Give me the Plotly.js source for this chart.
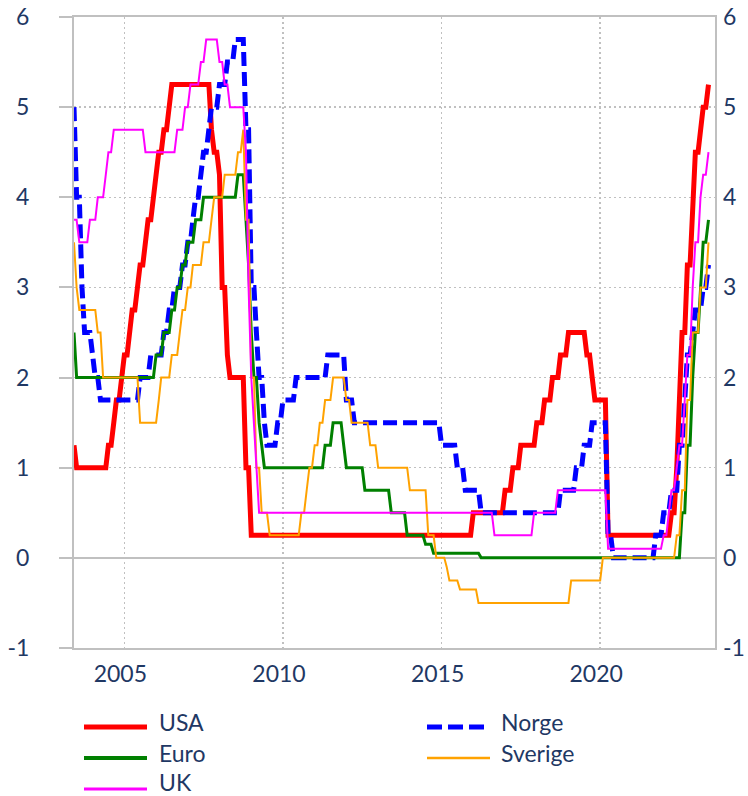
<!DOCTYPE html>
<html>
<head>
<meta charset="utf-8">
<script src="https://cdn.plot.ly/plotly-3.0.1.min.js"></script>
<style>
  html, body { margin: 0; padding: 0; background: #ffffff; }
  #chart { width: 748px; height: 796px; }
</style>
</head>
<body>
<div id="chart"></div>
<script>
// ---------------- DATA ----------------
// Policy rates (%), month-end values from May 2003 to May 2023,
// each plotted at the first day of the following month (Jun 2003 ... Jun 2023).
const seriesNames = ['USA', 'Norge', 'Euro', 'Sverige', 'UK'];

const usa = [
  1.25,1,1,1,1,1,1,1,                                   // 2003 May-Dec
  1,1,1,1,1,1.25,1.25,1.5,1.75,1.75,2,2.25,             // 2004
  2.25,2.5,2.75,2.75,3,3.25,3.25,3.5,3.75,3.75,4,4.25,  // 2005
  4.5,4.5,4.75,4.75,5,5.25,5.25,5.25,5.25,5.25,5.25,5.25, // 2006
  5.25,5.25,5.25,5.25,5.25,5.25,5.25,5.25,4.75,4.5,4.5,4.25, // 2007
  3,3,2.25,2,2,2,2,2,2,1,1,0.25,                        // 2008
  0.25,0.25,0.25,0.25,0.25,0.25,0.25,0.25,0.25,0.25,0.25,0.25, // 2009
  0.25,0.25,0.25,0.25,0.25,0.25,0.25,0.25,0.25,0.25,0.25,0.25, // 2010
  0.25,0.25,0.25,0.25,0.25,0.25,0.25,0.25,0.25,0.25,0.25,0.25, // 2011
  0.25,0.25,0.25,0.25,0.25,0.25,0.25,0.25,0.25,0.25,0.25,0.25, // 2012
  0.25,0.25,0.25,0.25,0.25,0.25,0.25,0.25,0.25,0.25,0.25,0.25, // 2013
  0.25,0.25,0.25,0.25,0.25,0.25,0.25,0.25,0.25,0.25,0.25,0.25, // 2014
  0.25,0.25,0.25,0.25,0.25,0.25,0.25,0.25,0.25,0.25,0.25,0.5,  // 2015
  0.5,0.5,0.5,0.5,0.5,0.5,0.5,0.5,0.5,0.5,0.5,0.75,            // 2016
  0.75,0.75,1,1,1,1.25,1.25,1.25,1.25,1.25,1.25,1.5,           // 2017
  1.5,1.5,1.75,1.75,1.75,2,2,2,2.25,2.25,2.25,2.5,             // 2018
  2.5,2.5,2.5,2.5,2.5,2.5,2.25,2.25,2,1.75,1.75,1.75,          // 2019
  1.75,1.75,0.25,0.25,0.25,0.25,0.25,0.25,0.25,0.25,0.25,0.25, // 2020
  0.25,0.25,0.25,0.25,0.25,0.25,0.25,0.25,0.25,0.25,0.25,0.25, // 2021
  0.25,0.25,0.5,0.5,1,1.75,2.5,2.5,3.25,3.25,4,4.5,            // 2022
  4.5,4.75,5,5,5.25                                             // 2023 Jan-May
];

const norge = [
  5,4,4,3,2.5,2.5,2.5,2.25,                                    // 2003 May-Dec
  2,2,1.75,1.75,1.75,1.75,1.75,1.75,1.75,1.75,1.75,1.75,       // 2004
  1.75,1.75,1.75,1.75,1.75,2,2,2,2,2.25,2.25,2.25,             // 2005
  2.25,2.25,2.5,2.5,2.75,2.75,3,3,3,3.25,3.25,3.5,             // 2006
  3.5,3.75,4,4,4.25,4.5,4.5,4.75,5,5,5,5.25,                   // 2007
  5.25,5.25,5.5,5.5,5.5,5.75,5.75,5.75,5.75,4.75,4.75,3,       // 2008
  3,2.5,2,2,1.5,1.25,1.25,1.25,1.25,1.5,1.5,1.75,              // 2009
  1.75,1.75,1.75,1.75,2,2,2,2,2,2,2,2,                         // 2010
  2,2,2,2,2.25,2.25,2.25,2.25,2.25,2.25,2.25,1.75,             // 2011
  1.75,1.75,1.5,1.5,1.5,1.5,1.5,1.5,1.5,1.5,1.5,1.5,           // 2012
  1.5,1.5,1.5,1.5,1.5,1.5,1.5,1.5,1.5,1.5,1.5,1.5,             // 2013
  1.5,1.5,1.5,1.5,1.5,1.5,1.5,1.5,1.5,1.5,1.5,1.25,            // 2014
  1.25,1.25,1.25,1.25,1.25,1,1,1,0.75,0.75,0.75,0.75,          // 2015
  0.75,0.75,0.5,0.5,0.5,0.5,0.5,0.5,0.5,0.5,0.5,0.5,           // 2016
  0.5,0.5,0.5,0.5,0.5,0.5,0.5,0.5,0.5,0.5,0.5,0.5,             // 2017
  0.5,0.5,0.5,0.5,0.5,0.5,0.5,0.5,0.75,0.75,0.75,0.75,         // 2018
  0.75,0.75,1,1,1,1.25,1.25,1.25,1.5,1.5,1.5,1.5,              // 2019
  1.5,1.5,0.25,0.25,0,0,0,0,0,0,0,0,                           // 2020
  0,0,0,0,0,0,0,0,0.25,0.25,0.25,0.5,                          // 2021
  0.5,0.5,0.75,0.75,0.75,1.25,1.25,1.75,2.25,2.25,2.5,2.75,    // 2022
  2.75,2.75,3,3,3.25                                            // 2023 Jan-May
];

const euro = [
  2.5,2,2,2,2,2,2,2,                                           // 2003 May-Dec
  2,2,2,2,2,2,2,2,2,2,2,2,                                     // 2004
  2,2,2,2,2,2,2,2,2,2,2,2.25,                                  // 2005
  2.25,2.25,2.5,2.5,2.5,2.75,2.75,3,3,3.25,3.25,3.5,           // 2006
  3.5,3.5,3.75,3.75,3.75,4,4,4,4,4,4,4,                        // 2007
  4,4,4,4,4,4,4.25,4.25,4.25,3.75,3.25,2.5,                    // 2008
  2,2,1.5,1.25,1,1,1,1,1,1,1,1,                                // 2009
  1,1,1,1,1,1,1,1,1,1,1,1,                                     // 2010
  1,1,1,1.25,1.25,1.25,1.5,1.5,1.5,1.5,1.25,1,                 // 2011
  1,1,1,1,1,1,0.75,0.75,0.75,0.75,0.75,0.75,                   // 2012
  0.75,0.75,0.75,0.75,0.5,0.5,0.5,0.5,0.5,0.5,0.25,0.25,       // 2013
  0.25,0.25,0.25,0.25,0.25,0.15,0.15,0.15,0.05,0.05,0.05,0.05, // 2014
  0.05,0.05,0.05,0.05,0.05,0.05,0.05,0.05,0.05,0.05,0.05,0.05, // 2015
  0.05,0.05,0,0,0,0,0,0,0,0,0,0,                               // 2016
  0,0,0,0,0,0,0,0,0,0,0,0,                                     // 2017
  0,0,0,0,0,0,0,0,0,0,0,0,                                     // 2018
  0,0,0,0,0,0,0,0,0,0,0,0,                                     // 2019
  0,0,0,0,0,0,0,0,0,0,0,0,                                     // 2020
  0,0,0,0,0,0,0,0,0,0,0,0,                                     // 2021
  0,0,0,0,0,0,0.5,0.5,1.25,1.25,2,2.5,                         // 2022
  2.5,3,3.5,3.5,3.75                                            // 2023 Jan-May
];

const sverige = [
  3.5,3,2.75,2.75,2.75,2.75,2.75,2.75,                         // 2003 May-Dec
  2.75,2.5,2.5,2,2,2,2,2,2,2,2,2,                              // 2004
  2,2,2,2,2,1.5,1.5,1.5,1.5,1.5,1.5,1.5,                       // 2005
  1.75,2,2,2,2,2.25,2.25,2.25,2.5,2.75,2.75,3,                 // 2006
  3,3.25,3.25,3.25,3.25,3.5,3.5,3.5,3.75,4,4,4,                // 2007
  4,4.25,4.25,4.25,4.25,4.25,4.5,4.5,4.75,3.75,3.75,2,         // 2008
  2,1,1,0.5,0.5,0.5,0.25,0.25,0.25,0.25,0.25,0.25,             // 2009
  0.25,0.25,0.25,0.25,0.25,0.25,0.5,0.5,0.75,1,1,1.25,         // 2010
  1.25,1.5,1.5,1.75,1.75,1.75,2,2,2,2,2,1.75,                  // 2011
  1.75,1.5,1.5,1.5,1.5,1.5,1.5,1.5,1.25,1.25,1.25,1,           // 2012
  1,1,1,1,1,1,1,1,1,1,1,0.75,                                  // 2013
  0.75,0.75,0.75,0.75,0.75,0.75,0.25,0.25,0.25,0,0,0,          // 2014
  0,-0.1,-0.25,-0.25,-0.25,-0.25,-0.35,-0.35,-0.35,-0.35,-0.35,-0.35, // 2015
  -0.35,-0.5,-0.5,-0.5,-0.5,-0.5,-0.5,-0.5,-0.5,-0.5,-0.5,-0.5,     // 2016
  -0.5,-0.5,-0.5,-0.5,-0.5,-0.5,-0.5,-0.5,-0.5,-0.5,-0.5,-0.5,      // 2017
  -0.5,-0.5,-0.5,-0.5,-0.5,-0.5,-0.5,-0.5,-0.5,-0.5,-0.5,-0.5,      // 2018
  -0.25,-0.25,-0.25,-0.25,-0.25,-0.25,-0.25,-0.25,-0.25,-0.25,-0.25,-0.25, // 2019
  0,0,0,0,0,0,0,0,0,0,0,0,                                     // 2020
  0,0,0,0,0,0,0,0,0,0,0,0,                                     // 2021
  0,0,0,0,0.25,0.25,0.75,0.75,1.75,1.75,2.5,2.5,               // 2022
  2.5,3,3,3,3.5                                                 // 2023 Jan-May
];

const uk = [
  3.75,3.75,3.5,3.5,3.5,3.5,3.75,3.75,                         // 2003 May-Dec
  3.75,4,4,4,4.25,4.5,4.5,4.75,4.75,4.75,4.75,4.75,            // 2004
  4.75,4.75,4.75,4.75,4.75,4.75,4.75,4.5,4.5,4.5,4.5,4.5,      // 2005
  4.5,4.5,4.5,4.5,4.5,4.5,4.5,4.75,4.75,4.75,5,5,              // 2006
  5.25,5.25,5.25,5.25,5.5,5.5,5.75,5.75,5.75,5.75,5.75,5.5,    // 2007
  5.5,5.25,5.25,5,5,5,5,5,5,4.5,3,2,                           // 2008
  1.5,1,0.5,0.5,0.5,0.5,0.5,0.5,0.5,0.5,0.5,0.5,               // 2009
  0.5,0.5,0.5,0.5,0.5,0.5,0.5,0.5,0.5,0.5,0.5,0.5,             // 2010
  0.5,0.5,0.5,0.5,0.5,0.5,0.5,0.5,0.5,0.5,0.5,0.5,             // 2011
  0.5,0.5,0.5,0.5,0.5,0.5,0.5,0.5,0.5,0.5,0.5,0.5,             // 2012
  0.5,0.5,0.5,0.5,0.5,0.5,0.5,0.5,0.5,0.5,0.5,0.5,             // 2013
  0.5,0.5,0.5,0.5,0.5,0.5,0.5,0.5,0.5,0.5,0.5,0.5,             // 2014
  0.5,0.5,0.5,0.5,0.5,0.5,0.5,0.5,0.5,0.5,0.5,0.5,             // 2015
  0.5,0.5,0.5,0.5,0.5,0.5,0.5,0.25,0.25,0.25,0.25,0.25,        // 2016
  0.25,0.25,0.25,0.25,0.25,0.25,0.25,0.25,0.25,0.25,0.5,0.5,   // 2017
  0.5,0.5,0.5,0.5,0.5,0.5,0.5,0.75,0.75,0.75,0.75,0.75,        // 2018
  0.75,0.75,0.75,0.75,0.75,0.75,0.75,0.75,0.75,0.75,0.75,0.75, // 2019
  0.75,0.75,0.1,0.1,0.1,0.1,0.1,0.1,0.1,0.1,0.1,0.1,           // 2020
  0.1,0.1,0.1,0.1,0.1,0.1,0.1,0.1,0.1,0.1,0.1,0.25,            // 2021
  0.25,0.5,0.75,0.75,1,1.25,1.25,1.75,2.25,2.25,3,3.5,         // 2022
  3.5,4,4.25,4.25,4.5                                           // 2023 Jan-May
];

const yTicks = [-1, 0, 1, 2, 3, 4, 5, 6];
const yTickText = ['-1', '0', '1', '2', '3', '4', '5', '6'];
const xTickVals = ['2005-01-01', '2010-01-01', '2015-01-01', '2020-01-01'];
const xTickText = ['2005', '2010', '2015', '2020'];

// ---------------- DATES (first day of month after each month-end) ----------------
const dates = [];
for (let i = 0; i < usa.length; i++) {
  const m = 5 + i; // month index from Jan 2003 (5 = Jun 2003)
  const y = 2003 + Math.floor(m / 12);
  const mo = (m % 12) + 1;
  dates.push(y + '-' + String(mo).padStart(2, '0') + '-01');
}

// ---------------- STYLE ----------------
const FONT = 'Lato, "Open Sans", sans-serif';
const TXT = '#1f3864';
const GRID = '#c0c0c0';
const styles = {
  USA:     { color: '#ff0000', width: 5,   dash: 'solid',    lw: 5 },
  Norge:   { color: '#0000ff', width: 5,   dash: '14px,6px', lw: 5 },
  Euro:    { color: '#008000', width: 3,   dash: 'solid',    lw: 4 },
  Sverige: { color: '#ffa200', width: 2,   dash: 'solid',    lw: 2.5 },
  UK:      { color: '#ff00ff', width: 2,   dash: 'solid',    lw: 3 }
};
const values = { USA: usa, Norge: norge, Euro: euro, Sverige: sverige, UK: uk };

const traces = seriesNames.map(n => ({
  type: 'scatter', mode: 'lines', name: n,
  x: dates, y: values[n],
  line: { color: styles[n].color, width: styles[n].width, dash: styles[n].dash },
  showlegend: false, hoverinfo: 'x+y+name'
}));
// helper trace so the right-hand axis is drawn
traces.push({ type: 'scatter', mode: 'lines', x: [], y: [], yaxis: 'y2', showlegend: false, hoverinfo: 'skip' });

// ---------------- GEOMETRY ----------------
const W = 748, H = 796, ML = 74, MR = 33, MT = 17, MB = 148;
const PW = W - ML - MR, PH = H - MT - MB;
const px = v => (v - ML) / PW;
const py = v => (H - MB - v) / PH;

// manual legend (two columns, row-major like the original)
const legendPos = {
  USA:     { x0: 84,  x1: 147, ly: 727, tx: 157, ty: 722 },
  Norge:   { x0: 427, x1: 488, ly: 727, tx: 499, ty: 722 },
  Euro:    { x0: 84,  x1: 147, ly: 758, tx: 157, ty: 753 },
  Sverige: { x0: 427, x1: 490, ly: 758, tx: 499, ty: 753 },
  UK:      { x0: 84,  x1: 147, ly: 789, tx: 157, ty: 781.5 }
};
const shapes = [], annotations = [];
seriesNames.forEach(n => {
  const p = legendPos[n], s = styles[n];
  shapes.push({
    type: 'line', xref: 'paper', yref: 'paper',
    x0: px(p.x0), x1: px(p.x1), y0: py(p.ly), y1: py(p.ly),
    line: { color: s.color, width: s.lw, dash: n === 'Norge' ? '15px,6px' : 'solid' }
  });
  annotations.push({
    xref: 'paper', yref: 'paper', x: px(p.tx), y: py(p.ty),
    xanchor: 'left', yanchor: 'middle', showarrow: false, text: n,
    font: { family: FONT, size: 23, color: TXT }
  });
});

const tickFont = { family: FONT, size: 23, color: TXT };

const layout = {
  width: W, height: H,
  margin: { l: ML, r: MR, t: MT, b: MB, pad: 0 },
  paper_bgcolor: '#ffffff', plot_bgcolor: '#ffffff',
  showlegend: false,
  font: { family: FONT, color: TXT },
  xaxis: {
    type: 'date', range: ['2003-06-01', '2023-08-15'],
    tickmode: 'array', tickvals: xTickVals, ticktext: xTickText,
    showgrid: true, gridcolor: GRID, gridwidth: 1.5, griddash: '2px,3px',
    showline: true, linecolor: GRID, linewidth: 2, mirror: true,
    ticks: '', zeroline: false, tickfont: tickFont,
    ticklabelshift: -4, ticklabelstandoff: 4
  },
  yaxis: {
    range: [-1, 6], tickmode: 'array', tickvals: yTicks, ticktext: yTickText,
    showgrid: true, gridcolor: GRID, gridwidth: 1.5, griddash: '2px,3px',
    zeroline: true, zerolinecolor: GRID, zerolinewidth: 2,
    showline: true, linecolor: GRID, linewidth: 2, mirror: true,
    ticks: 'outside', ticklen: 13, tickwidth: 2, tickcolor: GRID,
    tickfont: tickFont, ticklabelstandoff: 25
  },
  yaxis2: {
    overlaying: 'y', side: 'right', range: [-1, 6],
    tickmode: 'array', tickvals: yTicks, ticktext: yTickText,
    showgrid: false, zeroline: false, showline: false, ticks: '',
    tickfont: tickFont, ticklabelstandoff: 7
  },
  shapes: shapes,
  annotations: annotations
};

Plotly.newPlot('chart', traces, layout, { displayModeBar: false, staticPlot: true });
</script>
</body>
</html>
